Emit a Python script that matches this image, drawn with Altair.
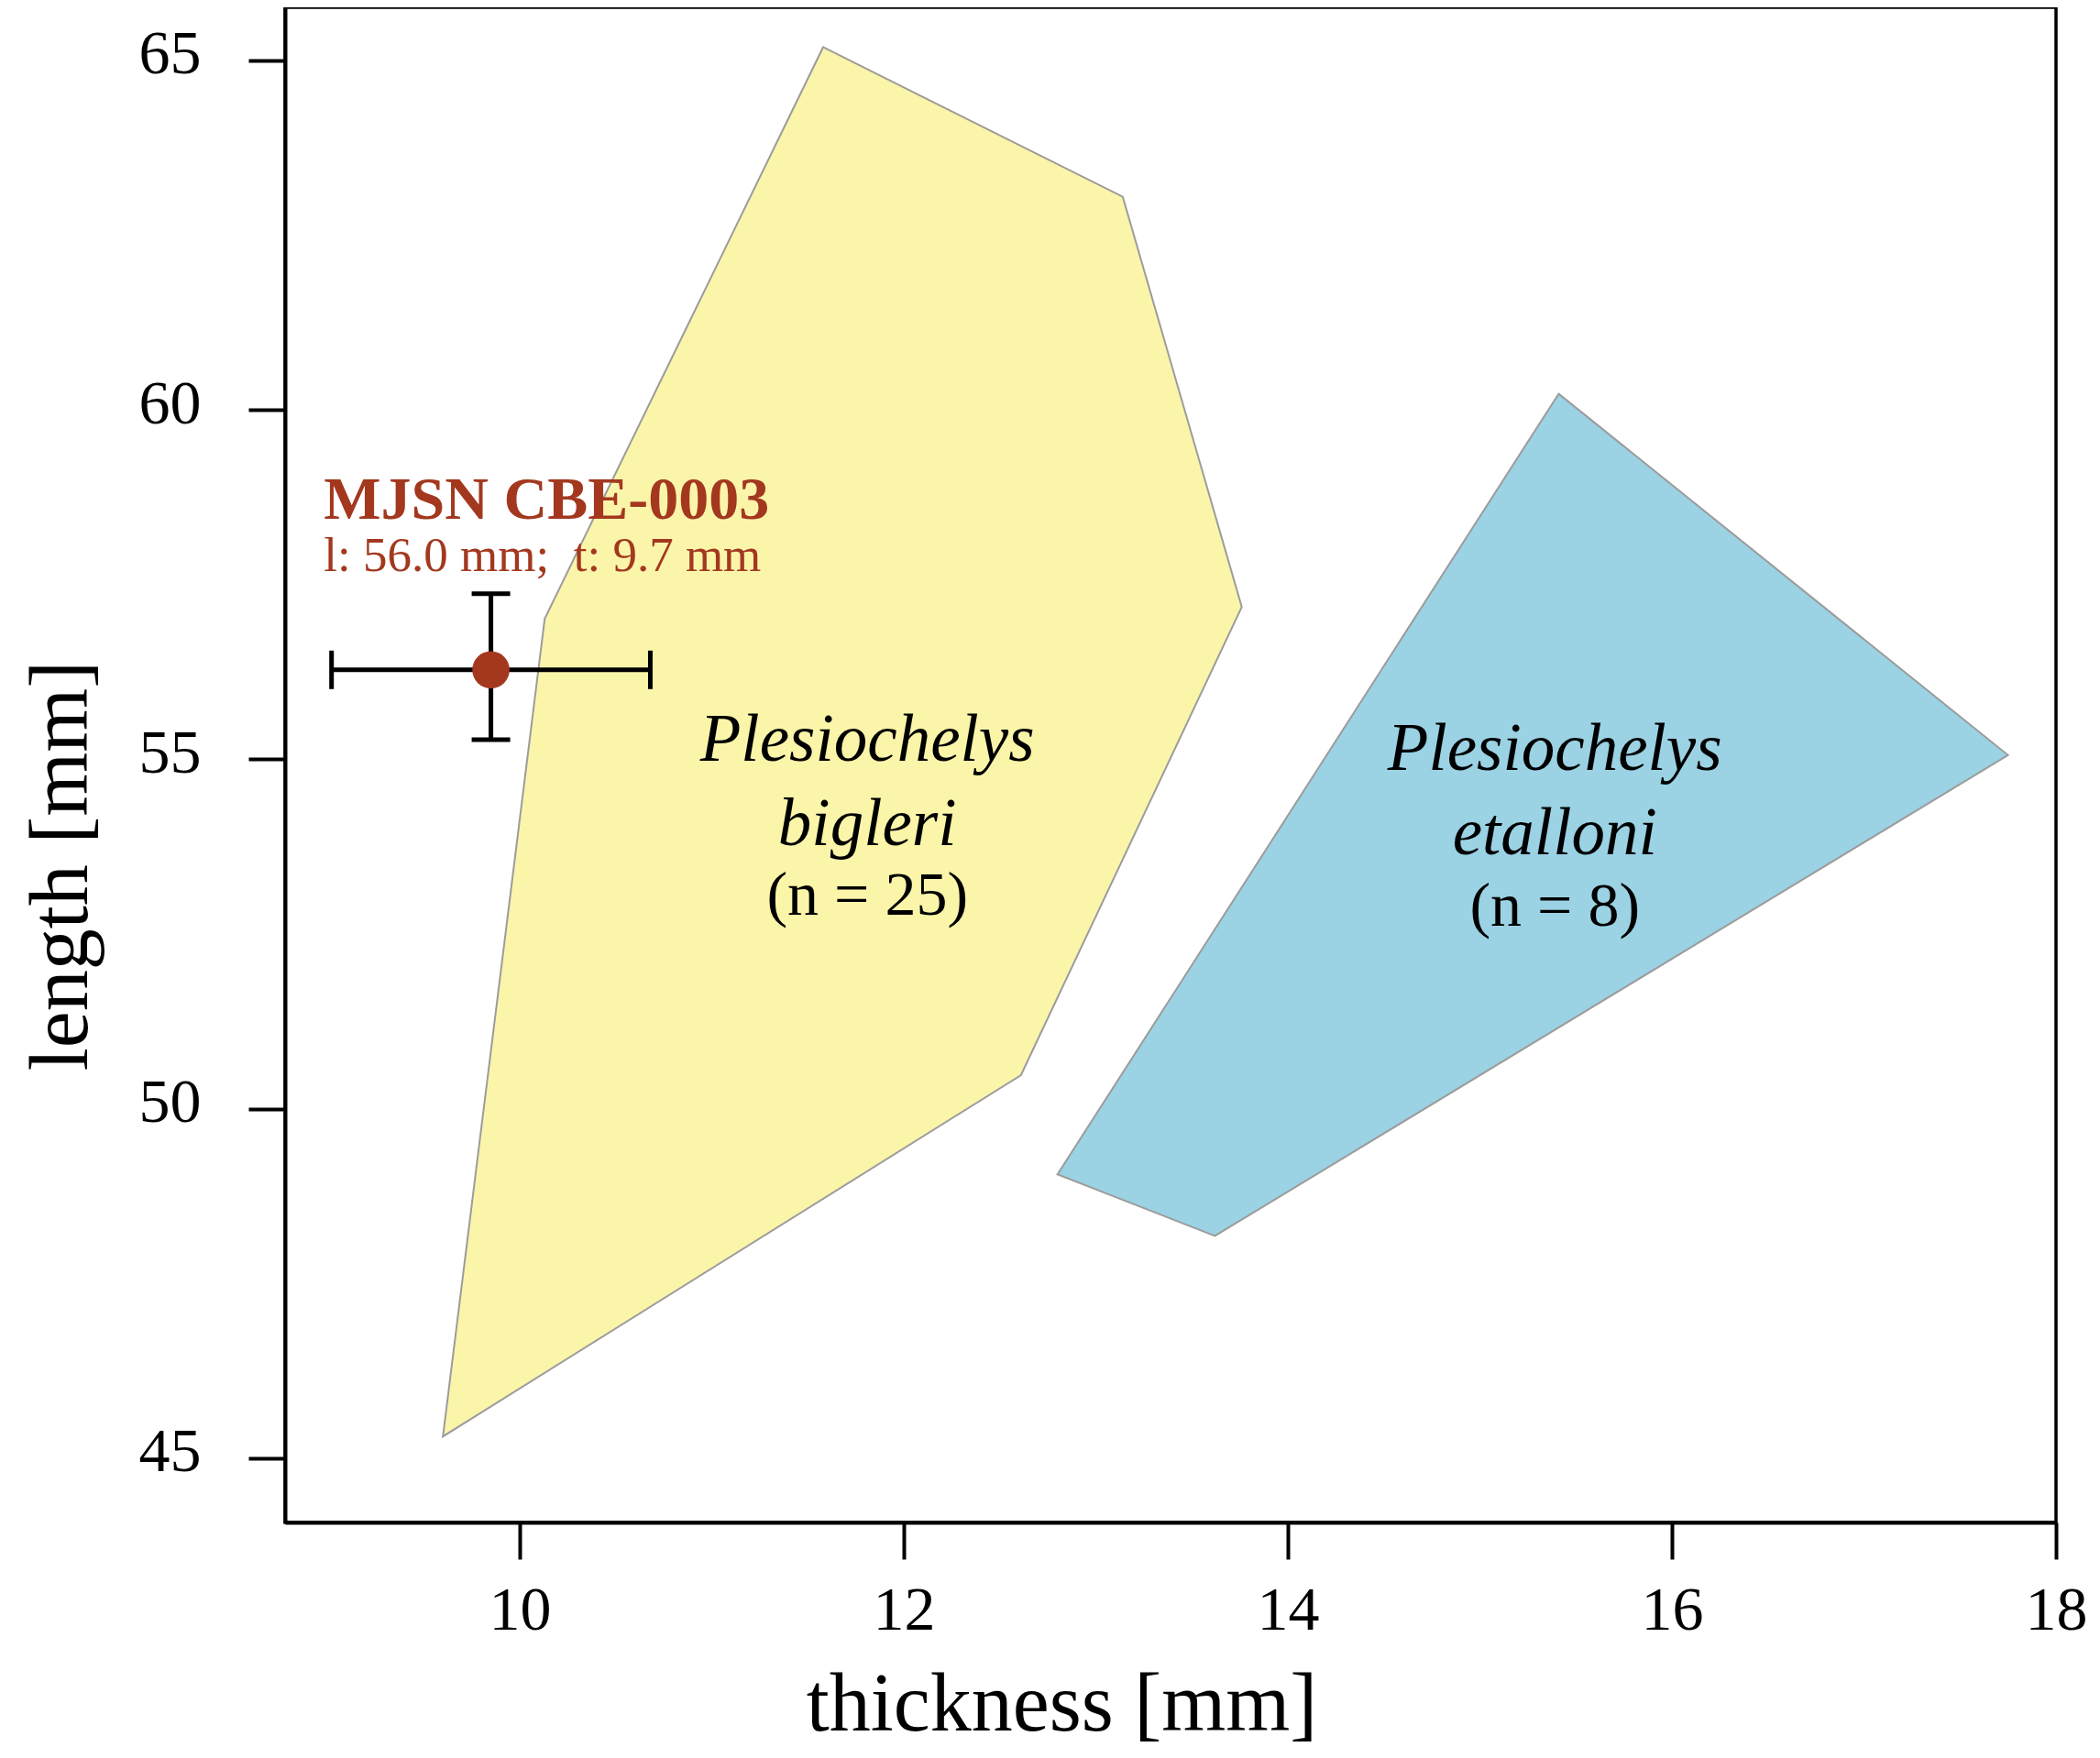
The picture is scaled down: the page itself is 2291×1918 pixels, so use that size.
import altair as alt
import pandas as pd

# ---- data ----
bigleri_x = [11.58, 13.14, 13.76, 12.61, 9.60, 10.13]
bigleri_y = [65.19, 63.05, 57.18, 50.48, 45.31, 57.01]

etalloni_x = [15.41, 17.75, 13.62, 12.80]
etalloni_y = [60.23, 55.06, 48.18, 49.06]

spec_x = [9.85]
spec_y = [56.28]
spec_xmin = [9.02]
spec_xmax = [10.68]
spec_ymin = [55.28]
spec_ymax = [57.37]

species_lines = ["Plesiochelys", "bigleri", "(n = 25)", "Plesiochelys", "etalloni", "(n = 8)"]
species_x = [11.81, 11.81, 11.81, 15.39, 15.39, 15.39]
species_y = [54.98, 53.77, 52.78, 54.85, 53.64, 52.62]
species_italic = ["italic", "italic", "normal", "italic", "italic", "normal"]

spec_label_title = ["MJSN CBE-0003"]
spec_label_sub = ["l: 56.0 mm;\u00a0 t: 9.7 mm"]
spec_label_x = [8.98]
spec_label_y_title = [58.44]
spec_label_y_sub = [57.70]

x_ticks = [10, 12, 14, 16, 18]
y_ticks = [45, 50, 55, 60, 65]

FONT = "Liberation Serif"
RED = "#A3381F"

xs = alt.Scale(domain=[8.778, 18], nice=False, zero=False)
ys = alt.Scale(domain=[44.08, 65.76], nice=False, zero=False)

xaxis = alt.Axis(values=x_ticks, format="d", title="thickness [mm]", grid=False,
                 labelBaseline="alphabetic", labelPadding=76,
                 titleX=847, titleY=226, titleBaseline="alphabetic", titleAlign="center")
yaxis = alt.Axis(values=y_ticks, format="d", title="length [mm]", grid=False,
                 labelBaseline="alphabetic", labelOffset=14, labelPadding=52,
                 titleAngle=270, titleX=-217, titleY=936, titleBaseline="alphabetic",
                 titleAlign="center")

poly_b = pd.DataFrame({"x": bigleri_x, "y": bigleri_y, "i": list(range(len(bigleri_x)))})
poly_e = pd.DataFrame({"x": etalloni_x, "y": etalloni_y, "i": list(range(len(etalloni_x)))})

layer_b = alt.Chart(poly_b).mark_line(
    fill="#FBF5AA", stroke="#9C9C9C", strokeWidth=2, interpolate="linear-closed"
).encode(
    x=alt.X("x:Q", scale=xs, axis=xaxis),
    y=alt.Y("y:Q", scale=ys, axis=yaxis),
    order="i:O",
)

layer_e = alt.Chart(poly_e).mark_line(
    fill="#9BD2E4", stroke="#9C9C9C", strokeWidth=2, interpolate="linear-closed"
).encode(
    x=alt.X("x:Q", scale=xs),
    y=alt.Y("y:Q", scale=ys),
    order="i:O",
)

lab = pd.DataFrame({"t": species_lines, "x": species_x, "y": species_y, "s": species_italic})
lab_it = alt.Chart(lab[lab.s == "italic"]).mark_text(
    font=FONT, fontSize=73, fontStyle="italic", color="black", align="center", baseline="alphabetic"
).encode(x=alt.X("x:Q", scale=xs), y=alt.Y("y:Q", scale=ys), text="t:N")
lab_rg = alt.Chart(lab[lab.s == "normal"]).mark_text(
    font=FONT, fontSize=68, color="black", align="center", baseline="alphabetic"
).encode(x=alt.X("x:Q", scale=xs), y=alt.Y("y:Q", scale=ys), text="t:N")

sl1 = pd.DataFrame({"t": spec_label_title, "x": spec_label_x, "y": spec_label_y_title})
sl2 = pd.DataFrame({"t": spec_label_sub, "x": spec_label_x, "y": spec_label_y_sub})
lab_s1 = alt.Chart(sl1).mark_text(
    font=FONT, fontSize=66, fontWeight="bold", color=RED, align="left", baseline="alphabetic"
).encode(x=alt.X("x:Q", scale=xs), y=alt.Y("y:Q", scale=ys), text="t:N")
lab_s2 = alt.Chart(sl2).mark_text(
    font=FONT, fontSize=53, color=RED, align="left", baseline="alphabetic"
).encode(x=alt.X("x:Q", scale=xs), y=alt.Y("y:Q", scale=ys), text="t:N")

sp = pd.DataFrame({"x": spec_x, "y": spec_y, "xmin": spec_xmin, "xmax": spec_xmax,
                   "ymin": spec_ymin, "ymax": spec_ymax})
base = alt.Chart(sp)
hbar = base.mark_rule(color="black", strokeWidth=5).encode(
    x=alt.X("xmin:Q", scale=xs), x2="xmax:Q", y=alt.Y("y:Q", scale=ys))
vbar = base.mark_rule(color="black", strokeWidth=5).encode(
    x=alt.X("x:Q", scale=xs), y=alt.Y("ymin:Q", scale=ys), y2="ymax:Q")
hcap1 = base.mark_tick(orient="vertical", size=42, thickness=5, color="black", opacity=1).encode(
    x=alt.X("xmin:Q", scale=xs), y=alt.Y("y:Q", scale=ys))
hcap2 = base.mark_tick(orient="vertical", size=42, thickness=5, color="black", opacity=1).encode(
    x=alt.X("xmax:Q", scale=xs), y=alt.Y("y:Q", scale=ys))
vcap1 = base.mark_tick(orient="horizontal", size=42, thickness=5, color="black", opacity=1).encode(
    x=alt.X("x:Q", scale=xs), y=alt.Y("ymin:Q", scale=ys))
vcap2 = base.mark_tick(orient="horizontal", size=42, thickness=5, color="black", opacity=1).encode(
    x=alt.X("x:Q", scale=xs), y=alt.Y("ymax:Q", scale=ys))
pt = base.mark_point(filled=True, size=1650, color=RED, opacity=1, strokeWidth=0).encode(
    x=alt.X("x:Q", scale=xs), y=alt.Y("y:Q", scale=ys))

chart = alt.layer(
    layer_b, layer_e, lab_it, lab_rg, lab_s1, lab_s2,
    hbar, vbar, hcap1, hcap2, vcap1, vcap2, pt
).properties(
    width=1932, height=1653,
    background="white",
    autosize=alt.AutoSizeParams(type="none"),
    padding={"left": 303, "top": 0, "right": 40, "bottom": 250},
).configure_view(
    stroke="black", strokeWidth=3.5, fill="white"
).configure_axis(
    domainColor="black", domainWidth=4, tickColor="black", tickWidth=4, tickSize=40,
    labelFont=FONT, labelFontSize=68, labelColor="black",
    titleFont=FONT, titleFontSize=90, titleColor="black", titleFontWeight="normal",
    labelFlush=False, labelOverlap=False,
)

chart.save("out.html", embed_options={"renderer": "svg", "actions": False})
